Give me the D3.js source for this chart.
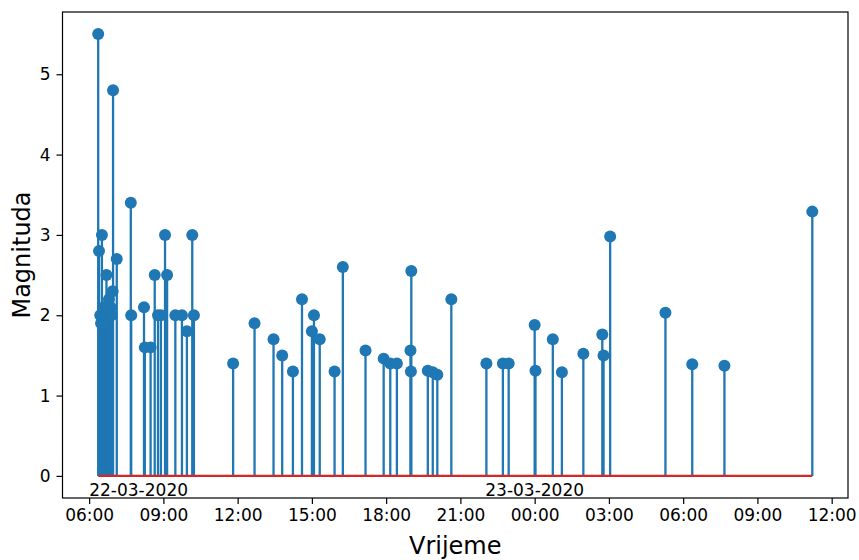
<!DOCTYPE html>
<html>
<head>
<meta charset="utf-8">
<script src="https://cdn.jsdelivr.net/npm/d3@7"></script>
<style>
  body { margin: 0; background: #fff; }
  text { font-family: "DejaVu Sans", sans-serif; fill: #000; }
</style>
</head>
<body>
<div id="stemChart"></div>
<script>
// event times (local) and magnitudes
var times = [
  "2020-03-22 06:22", "2020-03-22 06:24", "2020-03-22 06:27", "2020-03-22 06:29",
  "2020-03-22 06:31", "2020-03-22 06:33", "2020-03-22 06:35", "2020-03-22 06:37",
  "2020-03-22 06:39", "2020-03-22 06:42", "2020-03-22 06:44", "2020-03-22 06:46",
  "2020-03-22 06:48", "2020-03-22 06:50", "2020-03-22 06:52", "2020-03-22 06:54",
  "2020-03-22 06:57", "2020-03-22 06:58", "2020-03-22 07:07", "2020-03-22 07:41",
  "2020-03-22 07:42", "2020-03-22 08:13", "2020-03-22 08:15", "2020-03-22 08:29",
  "2020-03-22 08:39", "2020-03-22 08:47", "2020-03-22 08:54", "2020-03-22 09:04",
  "2020-03-22 09:09", "2020-03-22 09:29", "2020-03-22 09:45", "2020-03-22 09:57",
  "2020-03-22 10:10", "2020-03-22 10:14", "2020-03-22 11:49", "2020-03-22 12:41",
  "2020-03-22 13:27", "2020-03-22 13:48", "2020-03-22 14:14", "2020-03-22 14:36",
  "2020-03-22 15:00", "2020-03-22 15:05", "2020-03-22 15:19", "2020-03-22 15:55",
  "2020-03-22 16:15", "2020-03-22 17:10", "2020-03-22 17:54", "2020-03-22 18:10",
  "2020-03-22 18:26", "2020-03-22 18:59", "2020-03-22 19:00", "2020-03-22 19:01",
  "2020-03-22 19:41", "2020-03-22 19:53", "2020-03-22 20:04", "2020-03-22 20:38",
  "2020-03-22 22:03", "2020-03-22 22:43", "2020-03-22 22:57", "2020-03-23 00:00",
  "2020-03-23 00:02", "2020-03-23 00:44", "2020-03-23 01:06", "2020-03-23 01:58",
  "2020-03-23 02:44", "2020-03-23 02:47", "2020-03-23 03:03", "2020-03-23 05:17",
  "2020-03-23 06:22", "2020-03-23 07:40", "2020-03-23 11:13"
];
var magnitudes = [
  5.5, 2.8, 2.0, 1.9,
  3.0, 2.0, 2.1, 1.9,
  2.0, 2.5, 2.0, 2.1,
  2.2, 2.0, 2.1, 2.0,
  2.3, 4.8, 2.7, 3.4,
  2.0, 2.1, 1.6, 1.6,
  2.5, 2.0, 2.0, 3.0,
  2.5, 2.0, 2.0, 1.8,
  3.0, 2.0, 1.4, 1.9,
  1.7, 1.5, 1.3, 2.2,
  1.8, 2.0, 1.7, 1.3,
  2.6, 1.56, 1.46, 1.4,
  1.4, 1.56, 1.3, 2.55,
  1.31, 1.29, 1.26, 2.2,
  1.4, 1.4, 1.4, 1.88,
  1.31, 1.7, 1.29, 1.52,
  1.76, 1.5, 2.98, 2.03,
  1.39, 1.37, 3.29
];
var yTicks = [0, 1, 2, 3, 4, 5];
var dateLabels = ["22-03-2020", "23-03-2020"];
var dateLabelTimes = ["2020-03-22 08:00", "2020-03-23 00:00"];

var parseTime = d3.timeParse("%Y-%m-%d %H:%M");
var data = times.map((t, i) => ({ t: parseTime(t), m: magnitudes[i] }));

var W = 859, H = 560;
var margin = { top: 12, right: 11, bottom: 62, left: 62.5 },
    width = W - margin.left - margin.right,
    height = H - margin.top - margin.bottom;

var svg = d3.select("#stemChart")
  .append("svg")
    .attr("width", W)
    .attr("height", H)
  .append("g")
    .attr("transform", "translate(" + margin.left + "," + margin.top + ")");

// x domain padded 5% like matplotlib
var tExt = d3.extent(data, d => d.t);
var pad = (tExt[1] - tExt[0]) * 0.05;
var x = d3.scaleTime()
    .domain([new Date(+tExt[0] - pad), new Date(+tExt[1] + pad)])
    .range([0, width]);

var yMax = d3.max(magnitudes);
var yPad = yMax * 0.05;
var y = d3.scaleLinear()
    .domain([-yPad, yMax + yPad])
    .range([height, 0]);

// stems
svg.selectAll(".stem")
  .data(data)
  .enter()
  .append("line")
    .attr("class", "stem")
    .attr("x1", d => x(d.t))
    .attr("x2", d => x(d.t))
    .attr("y1", y(0))
    .attr("y2", d => y(d.m))
    .attr("stroke", "#1f77b4")
    .attr("stroke-width", 2.3);

// markers
svg.selectAll(".head")
  .data(data)
  .enter()
  .append("circle")
    .attr("class", "head")
    .attr("cx", d => x(d.t))
    .attr("cy", d => y(d.m))
    .attr("r", 6)
    .attr("fill", "#1f77b4");

// baseline
svg.append("line")
    .attr("x1", x(tExt[0]))
    .attr("x2", x(tExt[1]))
    .attr("y1", y(0))
    .attr("y2", y(0))
    .attr("stroke", "#d62728")
    .attr("stroke-width", 2.3);

// date labels
svg.selectAll(".datelabel")
  .data(dateLabels)
  .enter()
  .append("text")
    .attr("class", "datelabel")
    .attr("x", (d, i) => x(parseTime(dateLabelTimes[i])))
    .attr("y", y(-0.25))
    .style("text-anchor", "middle")
    .style("font-size", "17px")
    .text(d => d);

// axes
var xAxis = svg.append("g")
    .attr("transform", "translate(0," + height + ")")
    .call(d3.axisBottom(x)
      .ticks(d3.timeHour.every(3))
      .tickFormat(d3.timeFormat("%H:%M"))
      .tickSize(6)
      .tickPadding(5));
var yAxis = svg.append("g")
    .call(d3.axisLeft(y)
      .tickValues(yTicks)
      .tickFormat(d3.format("d"))
      .tickSize(6)
      .tickPadding(6));

[xAxis, yAxis].forEach(g => {
  g.select(".domain").remove();
  g.selectAll(".tick line").attr("stroke", "#000").attr("stroke-width", 1.2);
  g.selectAll(".tick text")
    .style("font-size", "17px")
    .style("font-family", "DejaVu Sans, sans-serif")
    .attr("fill", "#000");
});

// frame
svg.append("rect")
    .attr("width", width)
    .attr("height", height)
    .attr("fill", "none")
    .attr("stroke", "#000")
    .attr("stroke-width", 1.2);

// axis titles
svg.append("text")
    .attr("x", width / 2)
    .attr("y", H - margin.top - 6)
    .style("text-anchor", "middle")
    .style("font-size", "24px")
    .text("Vrijeme");

svg.append("text")
    .attr("transform", "translate(" + (29.5 - margin.left) + "," + (height / 2) + ") rotate(-90)")
    .style("text-anchor", "middle")
    .style("font-size", "24px")
    .text("Magnituda");
</script>
</body>
</html>
